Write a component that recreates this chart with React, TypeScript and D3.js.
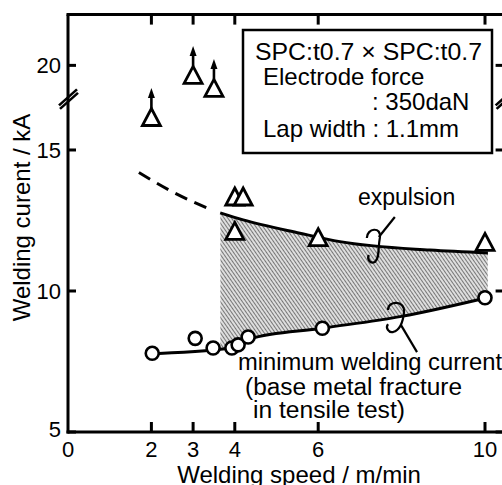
import React from "react";
import * as d3 from "d3";

// welding speed (m/min) / welding current (kA)
const speedTicks = [0, 2, 3, 4, 6, 10];
const currentTicks = [5, 10, 15, 20];

// expulsion points (open triangles)
const expSpeed = [4, 4.2, 4, 6, 10];
const expCurrent = [13.35, 13.35, 12.13, 11.91, 11.74];
// no expulsion up to these values (triangles with arrows)
const arrowSpeed = [2, 3, 3.5];
const arrowCurrent = [16.17, 19.66, 19.2];

// base metal fracture in tensile test (open circles)
const minSpeed = [2.02, 3.05, 3.48, 3.93, 4.08, 4.32, 6.1, 10];
const minCurrent = [7.79, 8.32, 7.98, 7.98, 8.09, 8.37, 8.68, 9.76];

// boundary curves
const dashSpeed = [1.7, 2.5, 3.45];
const dashCurrent = [14.2, 13.52, 12.87];
const upperSpeed = [3.65, 4.2, 5.56, 6.52, 8.68, 10.07];
const upperCurrent = [12.77, 12.52, 12.05, 11.75, 11.45, 11.35];
const lowerSpeed = [1.85, 3.9, 4.35, 6.1, 8, 10.07];
const lowerCurrent = [7.77, 7.98, 8.3, 8.68, 9.1, 9.77];

const condLines = ["SPC:t0.7 × SPC:t0.7", "Electrode force", ": 350daN", "Lap width : 1.1mm"];
const minLabel = ["minimum welding current", "(base metal fracture", "in tensile test)"];

const W = 502;
const H = 485;
const font = "'Liberation Sans', Arial, sans-serif";

export default function App() {
  const x = d3.scaleLinear().domain([0, 10]).range([68, 485]);
  // broken axis: 16.9 .. 18.9 collapsed
  const y = d3.scaleLinear().domain([5, 16.9, 18.9, 21.8]).range([432, 96.4, 96.4, 14.6]);

  const x0 = x(0);
  const xr = x(10.47);
  const yb = y(5);
  const yt = y(21.8);

  const line = d3
    .line<[number, number]>()
    .x((d) => x(d[0]))
    .y((d) => y(d[1]))
    .curve(d3.curveMonotoneX);

  const zip = (a: number[], b: number[]) => a.map((v, i) => [v, b[i]] as [number, number]);
  const upper = zip(upperSpeed, upperCurrent);
  const lower = zip(lowerSpeed, lowerCurrent);
  const dashed = zip(dashSpeed, dashCurrent);

  const upperD = line(upper) as string;
  const lowerD = line(lower) as string;
  const clipUpper = `${upperD}L${x(10.07)},${yb}L${x(3.65)},${yb}Z`;
  const clipLower = `${lowerD}L${x(10.07)},${yt}L${x(1.85)},${yt}Z`;

  const tri = (cx: number, cy: number) =>
    `M${cx},${cy - 8.5}L${cx + 9},${cy + 8.5}L${cx - 9},${cy + 8.5}Z`;

  const expCurl = [x(7.43), y(11.63)];
  const minCurl = [x(8.01), y(9.04)];

  return (
    <svg
      width={W}
      height={H}
      style={{ position: "absolute", left: 0, top: 0, background: "#fff" }}
      fontFamily={font}
    >
      <defs>
        <pattern id="hatch" width="3" height="3" patternUnits="userSpaceOnUse" patternTransform="rotate(-35)">
          <rect width="3" height="3" fill="#dedede" />
          <line x1="1.5" y1="0" x2="1.5" y2="3" stroke="#777" strokeWidth="1.05" />
        </pattern>
        <clipPath id="cu">
          <path d={clipUpper} />
        </clipPath>
        <clipPath id="cl">
          <path d={clipLower} />
        </clipPath>
      </defs>

      {/* weldable range */}
      <g clipPath="url(#cu)">
        <g clipPath="url(#cl)">
          <rect x={x(3.65)} y={yt} width={x(10.07) - x(3.65)} height={yb - yt} fill="url(#hatch)" />
        </g>
      </g>

      <path d={line(dashed) as string} fill="none" stroke="#000" strokeWidth={3} strokeDasharray="13 8" />
      <path d={upperD} fill="none" stroke="#000" strokeWidth={3} />
      <path d={lowerD} fill="none" stroke="#000" strokeWidth={3} />

      {/* curl marks */}
      <g fill="none" stroke="#000" strokeWidth={2.2}>
        <path
          d={`M${expCurl[0] - 11},${expCurl[1] - 7}C${expCurl[0] - 11},${expCurl[1] - 17} ${expCurl[0] + 4},${expCurl[1] - 19} ${expCurl[0] + 2},${expCurl[1] - 7}C${expCurl[0]},${expCurl[1] + 3} ${expCurl[0] + 2},${expCurl[1] + 13} ${expCurl[0] - 3},${expCurl[1] + 17}C${expCurl[0] - 8},${expCurl[1] + 19} ${expCurl[0] - 11},${expCurl[1] + 14} ${expCurl[0] - 9},${expCurl[1] + 10}`}
        />
        <path d={`M${expCurl[0] + 1},${expCurl[1] - 8}L${expCurl[0] + 17},${expCurl[1] - 28}`} />
        <path
          d={`M${minCurl[0] - 14},${minCurl[1] - 8}C${minCurl[0] - 14},${minCurl[1] - 18} ${minCurl[0] + 3},${minCurl[1] - 18} ${minCurl[0] + 2},${minCurl[1] - 6}C${minCurl[0] + 1},${minCurl[1] + 4} ${minCurl[0] - 2},${minCurl[1] + 12} ${minCurl[0] - 9},${minCurl[1] + 14}C${minCurl[0] - 13},${minCurl[1] + 15} ${minCurl[0] - 17},${minCurl[1] + 10} ${minCurl[0] - 14},${minCurl[1] + 6}`}
        />
        <path d={`M${minCurl[0] - 1},${minCurl[1] + 7}L${minCurl[0] + 15},${minCurl[1] + 34}`} />
      </g>

      {/* markers */}
      {minSpeed.map((s, i) => (
        <circle key={"c" + i} cx={x(s)} cy={y(minCurrent[i])} r={6.5} fill="#fff" stroke="#000" strokeWidth={2.6} />
      ))}
      {expSpeed.map((s, i) => (
        <path key={"t" + i} d={tri(x(s), y(expCurrent[i]))} fill="#fff" stroke="#000" strokeWidth={2.8} strokeLinejoin="miter" />
      ))}
      {arrowSpeed.map((s, i) => {
        const cx = x(s);
        const cy = y(arrowCurrent[i]);
        return (
          <g key={"a" + i}>
            <line x1={cx} y1={cy - 8.5} x2={cx} y2={cy - 23} stroke="#000" strokeWidth={2.6} />
            <path d={`M${cx},${cy - 29}L${cx + 3.5},${cy - 19}L${cx - 3.5},${cy - 19}Z`} fill="#000" />
            <path d={tri(cx, cy)} fill="#fff" stroke="#000" strokeWidth={2.8} />
          </g>
        );
      })}

      {/* frame */}
      <g stroke="#000" strokeWidth={3} fill="none">
        <line x1={x0} y1={yt} x2={x0} y2={yb + 1.5} />
        <line x1={x0 - 1.5} y1={yb} x2={W} y2={yb} />
        <line x1={x0 - 1.5} y1={yt} x2={W} y2={yt} />
        <line x1={xr} y1={yt} x2={xr} y2={yb} />
        {speedTicks.filter((t) => t > 0).map((t) => (
          <g key={"xt" + t}>
            <line x1={x(t)} y1={yb} x2={x(t)} y2={yb - 10} />
            <line x1={x(t)} y1={yt} x2={x(t)} y2={yt + 10} />
          </g>
        ))}
        {currentTicks.map((t) => (
          <g key={"yt" + t}>
            <line x1={x0} y1={y(t)} x2={x0 + 8} y2={y(t)} />
            <line x1={xr} y1={y(t)} x2={xr - 9} y2={y(t)} />
          </g>
        ))}
        {/* axis break */}
        <line x1={x0 - 9} y1={y(17.9) + 9} x2={x0 + 9} y2={y(17.9) - 7} strokeWidth={2.6} />
        <line x1={x0 - 8} y1={y(17.9) + 12.5} x2={x0 + 10} y2={y(17.9) - 3.5} strokeWidth={2.6} />
        <line x1={xr - 9} y1={y(17.9) + 9} x2={xr + 9} y2={y(17.9) - 7} strokeWidth={2.6} />
        <line x1={xr - 8} y1={y(17.9) + 12.5} x2={xr + 10} y2={y(17.9) - 3.5} strokeWidth={2.6} />
      </g>

      {/* tick labels */}
      <g fontSize={22} fill="#000">
        {speedTicks.map((t) => (
          <text key={"xl" + t} x={x(t)} y={457} textAnchor="middle">
            {t}
          </text>
        ))}
        {currentTicks.map((t) => (
          <text key={"yl" + t} x={61} y={Math.min(y(t) + 8, 437)} textAnchor="end">
            {t}
          </text>
        ))}
      </g>

      {/* axis titles */}
      <text x={299} y={483} fontSize={24} textAnchor="middle">
        Welding speed / m/min
      </text>
      <text transform={`translate(30,217.5) rotate(-90)`} fontSize={24} textAnchor="middle">
        Welding curent / kA
      </text>

      {/* conditions box */}
      <rect x={243} y={30} width={249} height={123} fill="#fff" stroke="#000" strokeWidth={2.5} />
      <g fontSize={24}>
        <text x={255} y={60} textLength={227} lengthAdjust="spacingAndGlyphs">
          {condLines[0]}
        </text>
        <text x={263} y={85}>{condLines[1]}</text>
        <text x={372} y={110}>{condLines[2]}</text>
        <text x={263} y={137}>{condLines[3]}</text>
      </g>

      {/* annotations */}
      <text x={358} y={205} fontSize={23}>
        expulsion
      </text>
      <g fontSize={23}>
        <text x={238} y={370} textLength={264} lengthAdjust="spacingAndGlyphs">
          {minLabel[0]}
        </text>
        <text x={245} y={395} textLength={217} lengthAdjust="spacingAndGlyphs">
          {minLabel[1]}
        </text>
        <text x={253} y={418} textLength={152} lengthAdjust="spacingAndGlyphs">
          {minLabel[2]}
        </text>
      </g>
    </svg>
  );
}
